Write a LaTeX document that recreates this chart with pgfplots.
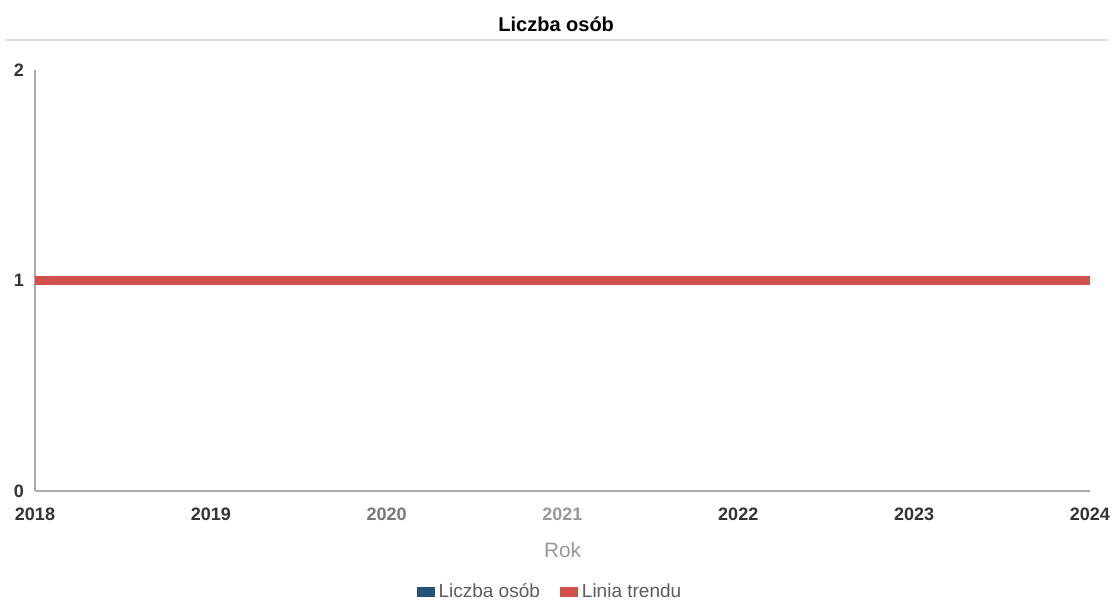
\documentclass[border=0pt]{standalone}
\usepackage{fontspec}
\setmainfont{Liberation Sans}
\usepackage{pgfplots}
\pgfplotsset{compat=1.18}
\definecolor{trendred}{HTML}{D0504A}
\definecolor{seriesblue}{HTML}{24507A}
\definecolor{dark}{HTML}{333333}
\definecolor{axgray}{HTML}{AAAAAA}
\definecolor{lblgray}{HTML}{999999}
\definecolor{midgray}{HTML}{777777}
\begin{document}
\begin{tikzpicture}
\begin{axis}[
  scale only axis,
  width=527.5pt, height=210.5pt,
  at={(0,0)}, anchor=south west,
  xmin=2018, xmax=2024, ymin=0, ymax=2,
  axis lines*=left,
  axis line style={axgray, line width=0.8pt},
  tick style={draw=none},
  xtick={2018,...,2024},
  xticklabels={{\color{dark}2018},{\color{dark}2019},{\color{midgray}2020},{\color{lblgray}2021},{\color{dark}2022},{\color{dark}2023},{\color{dark}2024}},
  ytick={0,1,2},
  yticklabels={0,1,2},
  ticklabel style={font=\fontsize{9}{10}\selectfont\bfseries, text=dark},
  xticklabel style={yshift=-5pt},
  yticklabel style={xshift=-2pt},
  xlabel={Rok},
  xlabel style={font=\fontsize{10.4}{12}\selectfont, text=lblgray, yshift=-4pt},
  title={Liczba osób},
  title style={at={(axis description cs:0.494,1.081)}, anchor=center, font=\fontsize{10}{12}\selectfont\bfseries, text=black},
  clip=false,
  legend style={at={(axis description cs:0.489,-0.24)}, anchor=center, draw=none, fill=none,
    legend columns=2, font=\fontsize{9.5}{11}\selectfont, text=dark!80,
    /tikz/every even column/.append style={column sep=8pt}},
  legend image code/.code={\fill[#1, draw=none, line width=0pt] (0pt,-2.3pt) rectangle (9pt,2.3pt);},
]
\addplot[seriesblue, line width=1.5pt, forget plot] coordinates {(2018,1) (2019,1) (2020,1) (2021,1) (2022,1) (2023,1) (2024,1)};
\addlegendimage{seriesblue, fill=seriesblue}
\addlegendentry{Liczba osób}
\addplot[trendred, line width=4.5pt, line cap=butt] coordinates {(2018,1) (2024,1)};
\addlegendentry{Linia trendu}
\end{axis}
\draw[black!12, line width=0.8pt] (-15pt,225.5pt) -- (537pt,225.5pt);
\pgfresetboundingbox
\path (-17.5pt,-55.5pt) rectangle (539pt,245.5pt);
\end{tikzpicture}
\end{document}
